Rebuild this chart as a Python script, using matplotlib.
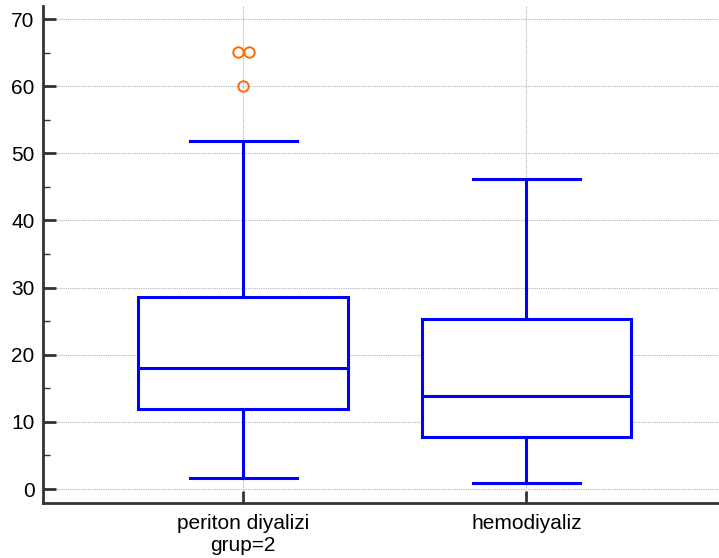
import numpy as np
import matplotlib.pyplot as plt
from matplotlib.ticker import MultipleLocator

plt.rcParams['font.family'] = ['Liberation Sans', 'DejaVu Sans']

groups = ["periton diyalizi\ngrup=2", "hemodiyaliz"]
whis_lo = [1.7, 0.9]
q1 = [11.9, 7.8]
median = [18.0, 13.9]
q3 = [28.6, 25.3]
whis_hi = [51.9, 46.1]
outliers = [[60.0, 65.1, 65.1], []]

boxColor = "#0000ff"
outlierColor = "#ff6a00"
spineColor = "#333333"

fig = plt.figure(figsize=(7.19, 5.58), dpi=100)
ax = fig.add_axes([43/719, 55/558, 1 - 43/719, 497/558])

stats = []
for i in range(len(groups)):
    stats.append({"whislo": whis_lo[i], "q1": q1[i], "med": median[i],
                  "q3": q3[i], "whishi": whis_hi[i], "fliers": []})

pos = np.arange(1, len(groups) + 1)
lw = 2.2
ax.bxp(stats, positions=pos, widths=0.74, patch_artist=True, showfliers=False,
       boxprops=dict(facecolor="white", edgecolor=boxColor, linewidth=lw),
       medianprops=dict(color=boxColor, linewidth=lw),
       whiskerprops=dict(color=boxColor, linewidth=lw),
       capprops=dict(color=boxColor, linewidth=lw),
       capwidths=0.378, zorder=3)

# outliers: spread tied values sideways so they stay visible
for i, vals in enumerate(outliers):
    vals = np.asarray(vals)
    for v in np.unique(vals):
        n = np.sum(vals == v)
        offs = (np.arange(n) - (n - 1) / 2) * 0.04
        ax.plot(pos[i] + offs, [v] * n, 'o', mfc="none", mec=outlierColor,
                mew=1.4, ms=7.5, zorder=4, clip_on=False)

ax.set_xlim(0.293, 2.68)
ax.set_ylim(-2.085, 71.94)
ax.set_xticks(pos)
ax.set_xticklabels(groups)
ax.yaxis.set_major_locator(MultipleLocator(10))
ax.yaxis.set_minor_locator(MultipleLocator(5))

ax.grid(True, which="major", color="#b4b4b4", linestyle=(0, (1, 1)), linewidth=0.8, zorder=0)
ax.set_axisbelow(True)

for s in ["top", "right"]:
    ax.spines[s].set_visible(False)
for s in ["left", "bottom"]:
    ax.spines[s].set_color(spineColor)
    ax.spines[s].set_linewidth(2)

ax.tick_params(axis="both", which="major", direction="in", length=9, width=2,
               color=spineColor, labelsize=15, pad=6)
ax.tick_params(axis="y", which="minor", direction="in", length=5, width=1, color=spineColor)
ax.tick_params(axis="x", which="minor", bottom=False)
ax.tick_params(axis="x", pad=8)

fig.savefig("out.png", dpi=100)
